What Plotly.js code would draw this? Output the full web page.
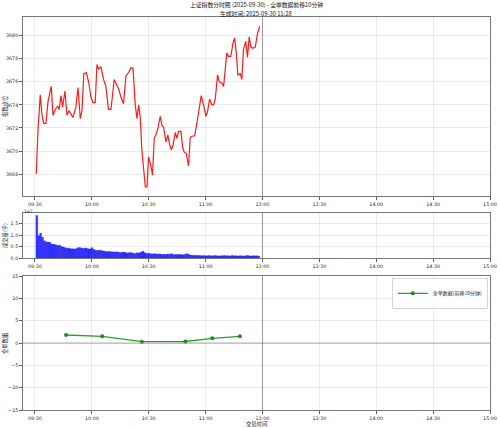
<!DOCTYPE html>
<html><head><meta charset="utf-8">
<script src="https://cdn.plot.ly/plotly-3.0.1.min.js"></script>
<style>html,body{margin:0;padding:0;background:#fff}#c{width:500px;height:428px}</style>
</head><body><div id="c"></div>
<script>
// ---- data ----
const tickPos = [0,30,60,90,120,150,180,210,240];
const tickText = ["09:30","10:00","10:30","11:00","13:00","13:30","14:00","14:30","15:00"];

const priceIdx = [0.7,1.6,2.8,3.7,4.6,5.8,6.9,8.6,9.5,10.7,12.0,12.8,13.7,14.6,15.8,16.9,17.9,19.2,20.0,21.6,22.7,23.9,24.8,25.8,27.1,28.3,29.5,30.6,31.8,32.7,33.6,34.8,36.2,37.4,38.8,40.1,41.1,41.8,43.2,44.1,45.3,46.7,48.0,49.4,50.6,51.7,52.9,53.8,54.7,55.5,56.4,57.3,58.2,59.1,59.9,61.2,62.0,62.9,64.0,64.9,66.1,67.0,67.8,69.1,70.1,71.0,71.9,72.8,74.0,74.9,75.7,77.0,77.9,78.7,79.8,81.0,81.9,83.3,84.2,85.4,86.5,87.7,88.9,90.2,91.0,92.1,93.3,94.2,95.1,96.3,97.2,98.6,99.5,100.4,101.2,102.1,103.3,104.4,105.3,106.2,107.0,108.3,109.1,110.0,111.2,112.1,113.0,113.9,114.9,116.2,117.4,118.5];
const priceVal = [3668.0,3671.8,3674.87,3673.1,3672.4,3672.4,3674.3,3675.6,3673.1,3673.6,3673.9,3673.6,3674.8,3673.8,3675.2,3673.1,3673.5,3673.1,3672.9,3673.8,3675.5,3672.8,3673.5,3676.7,3676.8,3676.0,3674.7,3674.2,3674.2,3677.5,3677.1,3677.3,3676.2,3675.6,3673.6,3673.6,3675.3,3676.2,3675.7,3675.4,3674.7,3674.1,3676.5,3676.8,3677.2,3677.2,3674.0,3672.8,3674.0,3673.0,3670.1,3668.1,3666.9,3666.9,3669.5,3668.7,3667.9,3671.1,3671.5,3672.0,3673.0,3672.2,3672.1,3670.8,3671.4,3670.6,3670.1,3670.5,3671.6,3671.1,3671.7,3671.7,3670.3,3669.9,3669.8,3668.7,3671.2,3671.3,3671.3,3672.4,3673.7,3674.8,3674.0,3673.0,3673.4,3674.5,3674.0,3674.0,3674.5,3676.6,3676.0,3675.9,3675.6,3677.0,3678.5,3678.2,3678.2,3679.3,3679.8,3678.5,3676.6,3676.7,3676.2,3678.8,3679.5,3678.1,3679.9,3679.0,3678.9,3679.0,3680.2,3680.8];

const volIdx = [];
for (let i = 1; i <= 118; i++) volIdx.push(i);
const volVal = [18.5,9.7,10.8,9.0,7.5,7.0,7.0,6.8,6.0,6.0,5.8,5.5,5.6,5.0,4.8,4.5,4.3,4.3,4.0,4.0,3.9,4.2,4.6,4.5,4.3,4.2,4.4,4.1,3.9,4.5,3.8,3.4,3.3,3.4,3.3,3.1,3.0,2.8,2.9,2.8,2.7,2.6,2.7,2.5,2.4,2.5,2.6,2.3,2.2,2.4,2.3,2.1,2.0,2.3,2.2,2.6,3.0,2.3,2.0,2.1,1.9,1.8,1.9,1.8,1.7,1.8,1.6,1.7,1.6,1.8,1.7,1.9,1.6,1.5,1.5,1.6,1.5,1.4,1.5,1.9,1.7,1.3,1.2,1.1,1.2,1.1,1.1,1.0,1.1,1.0,1.0,1.1,1.0,1.0,1.1,1.0,0.9,1.0,1.0,1.1,1.0,1.0,0.9,1.1,1.0,1.0,0.9,1.0,1.0,0.9,1.0,1.1,1.0,0.9,1.0,1.0,1.0,0.9].map(v => v * 1e6);

const flowIdx = [16.4,35.5,56.4,79.3,93.5,108.1];
const flowVal = [1.8,1.5,0.3,0.35,1.05,1.5];

// ---- chart ----
const FONT = "Noto Sans CJK SC, DejaVu Sans, sans-serif";
const TICKFONT = "DejaVu Sans, sans-serif";
const gridC = "rgba(0,0,0,0.1)";
function xax(anchor) {
  return {domain:[0.046,0.98], range:[-6.3,240], anchor:anchor, tickmode:"array", tickvals:tickPos, ticktext:tickText,
    ticks:"outside", ticklen:3, tickwidth:0.8, tickcolor:"#333", showgrid:true, gridcolor:gridC, gridwidth:0.8,
    zeroline:false, showline:true, linecolor:"#555", linewidth:0.8, mirror:true, tickfont:{size:4.8, color:"#222", family:TICKFONT}};
}
function yax(domain, range, tv, tt) {
  return {domain:domain, range:range, tickmode:"array", tickvals:tv, ticktext:tt, ticks:"outside", ticklen:3, tickwidth:0.8, tickcolor:"#333",
    showgrid:true, gridcolor:gridC, gridwidth:0.8, zeroline:false, showline:true, linecolor:"#555", linewidth:0.8, mirror:true,
    tickfont:{size:4.8, color:"#222", family:TICKFONT}};
}

const traces = [
  {x:priceIdx, y:priceVal, type:"scatter", mode:"lines", line:{color:"#ff1a1a", width:1.2}, xaxis:"x", yaxis:"y", showlegend:false},
  {x:volIdx, y:volVal, type:"bar", width:1, marker:{color:"rgba(20,20,255,0.85)", line:{color:"rgba(0,0,230,0.9)", width:0.3}}, xaxis:"x2", yaxis:"y2", showlegend:false},
  {x:flowIdx, y:flowVal, type:"scatter", mode:"lines+markers", name:"全单数据(前移10分钟)", line:{color:"#2ca02c", width:1.3}, marker:{color:"#1f8a1f", size:4}, xaxis:"x3", yaxis:"y3", showlegend:true}
];

const shapes = [];
[["x","y"],["x2","y2"],["x3","y3"]].forEach(([xa,ya]) => {
  shapes.push({type:"line", xref:xa, yref:ya+" domain", x0:120, x1:120, y0:0, y1:1, line:{color:"rgba(120,120,120,0.7)", width:1}});
});
shapes.push({type:"line", xref:"x3 domain", yref:"y3", x0:0, x1:1, y0:0, y1:0, line:{color:"rgba(120,120,120,0.8)", width:0.8}});

function px(x){return x/500;}
function py(y){return 1-y/428;}
const tf = {size:5.8, family:FONT, color:"#111"};
const af = {size:5.3, family:FONT, color:"#222"};
const annotations = [
  {text:"上证指数分时图 (2025-09-30) - 全单数据前移10分钟", x:px(256), y:py(4.5), xref:"paper", yref:"paper", showarrow:false, xanchor:"center", yanchor:"middle", font:tf, borderpad:0},
  {text:"生成时间: 2025-09-30 11:28", x:px(256), y:py(13), xref:"paper", yref:"paper", showarrow:false, xanchor:"center", yanchor:"middle", font:tf, borderpad:0},
  {text:"指数点位", x:px(5), y:py(106), xref:"paper", yref:"paper", showarrow:false, textangle:-90, xanchor:"center", yanchor:"middle", font:af},
  {text:"成交量(手)", x:px(5), y:py(236), xref:"paper", yref:"paper", showarrow:false, textangle:-90, xanchor:"center", yanchor:"middle", font:af},
  {text:"全单数据", x:px(5), y:py(343), xref:"paper", yref:"paper", showarrow:false, textangle:-90, xanchor:"center", yanchor:"middle", font:af},
  {text:"交易时间", x:px(256), y:py(423.5), xref:"paper", yref:"paper", showarrow:false, xanchor:"center", yanchor:"middle", font:af},
  {text:"1e7", x:px(22), y:py(211), xref:"paper", yref:"paper", xanchor:"left", yanchor:"middle", showarrow:false, font:{size:4.6, family:TICKFONT, color:"#222"}}
];

const layout = {
  width:500, height:428, margin:{l:0,r:0,t:0,b:0}, paper_bgcolor:"#fff", plot_bgcolor:"#fff",
  font:{family:FONT, size:6, color:"#222"},
  xaxis: xax("y"),
  yaxis: yax([0.542,0.960], [3666.1,3681.6], [3668,3670,3672,3674,3676,3678,3680], ["3668","3670","3672","3674","3676","3678","3680"]),
  xaxis2: xax("y2"),
  yaxis2: yax([0.397,0.502], [0,1.95e7], [0,5e6,1e7,1.5e7], ["0.0","0.5","1.0","1.5"]),
  xaxis3: xax("y3"),
  yaxis3: yax([0.042,0.355], [-15,15], [-15,-10,-5,0,5,10,15], ["−15","−10","−5","0","5","10","15"]),
  bargap:0,
  shapes: shapes,
  showlegend:true,
  legend:{x:px(488), xanchor:"right", y:py(278), yanchor:"top", bgcolor:"rgba(255,255,255,0.9)", bordercolor:"#ccc", borderwidth:0.8,
    font:{size:5, family:FONT}, itemwidth:30, tracegroupgap:0},
  annotations: annotations
};
Plotly.newPlot("c", traces, layout, {staticPlot:true, displayModeBar:false});
</script></body></html>
